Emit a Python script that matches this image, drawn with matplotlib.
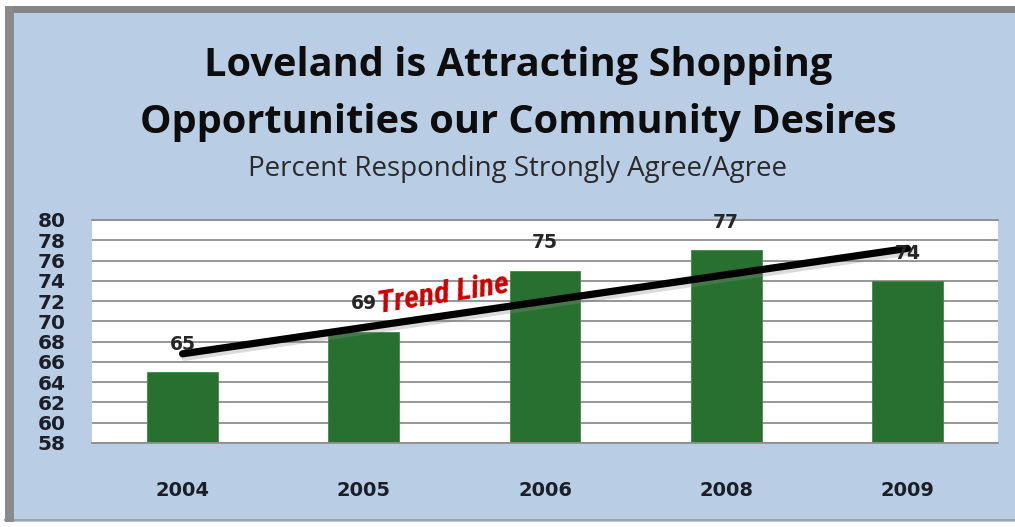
import numpy as np
import matplotlib
matplotlib.use("Agg")
import matplotlib.pyplot as plt
from matplotlib import font_manager as fm
from matplotlib.patches import Rectangle
from matplotlib.lines import Line2D
import matplotlib.patheffects as pe

# Survey results
years = ["2004", "2005", "2006", "2008", "2009"]
percent_agree = [65, 69, 75, 77, 74]
y_ticks = list(range(58, 81, 2))

title = "Loveland is Attracting Shopping\nOpportunities our Community Desires"
subtitle = "Percent Responding Strongly Agree/Agree"

# Pick a narrow face for the annotation if one is installed
installed = {f.name for f in fm.fontManager.ttflist}
narrow_pref = ["Liberation Sans Narrow", "Roboto Condensed", "Open Sans Condensed",
               "DejaVu Sans Condensed", "Roboto"]
narrow_family = next((n for n in narrow_pref if n in installed), "DejaVu Sans")
condensed_faces = [f for f in fm.fontManager.ttflist
                   if str(f.stretch) in ("condensed", "semi-condensed", "extra-condensed")]
narrow_stretch = "normal"
if narrow_family in ("Roboto", "DejaVu Sans") and condensed_faces:
    narrow_family = condensed_faces[0].name
    narrow_stretch = "condensed"

W, H = 1015, 527
fig = plt.figure(figsize=(W / 100, H / 100), dpi=100, facecolor="white")

def fx(px):
    return px / W

def fy(py):
    return 1 - py / H

# Panel background with a grey frame on the top and left
fig.patches.append(Rectangle((fx(5), fy(522)), fx(1010), 516 / H,
                             transform=fig.transFigure, facecolor="#b9cde5",
                             edgecolor="none", zorder=-3))
fig.patches.append(Rectangle((fx(5), fy(13)), fx(1010), 7 / H,
                             transform=fig.transFigure, facecolor="#858585",
                             edgecolor="none", zorder=-2))
fig.patches.append(Rectangle((fx(5), fy(522)), fx(9), 516 / H,
                             transform=fig.transFigure, facecolor="#8a8a8a",
                             edgecolor="none", zorder=-2))
fig.lines.append(Line2D([fx(5), 1], [fy(520), fy(520)], transform=fig.transFigure,
                        color="#9aa6b4", lw=1.5, zorder=-2))

ax = fig.add_axes([fx(92), fy(443), fx(998) - fx(92), (443 - 220) / H])
ax.set_zorder(2)
ax.set_facecolor("white")

x = np.arange(len(years))
ax.bar(x, percent_agree, width=0.39, bottom=0, color="#27702f",
       edgecolor="#3c8a45", linewidth=0.6, zorder=2)

ax.set_xlim(-0.5, len(years) - 0.5)
ax.set_ylim(58, 80)
ax.set_yticks(y_ticks)
ax.set_yticklabels([str(t) for t in y_ticks])
ax.set_xticks(x)
ax.set_xticklabels(years)
ax.yaxis.grid(True, color="#8e8e8e", linewidth=1.3, zorder=1)
ax.set_axisbelow(True)
for side in ("left", "right"):
    ax.spines[side].set_visible(False)
for side in ("top", "bottom"):
    ax.spines[side].set_color("#8e8e8e")
    ax.spines[side].set_linewidth(1.3)
ax.tick_params(axis="y", length=0, pad=19, labelsize=14.5, labelcolor="#1a1f2a")
ax.tick_params(axis="x", length=0, pad=27, labelsize=14, labelcolor="#1a1f2a")
for lab in ax.get_yticklabels() + ax.get_xticklabels():
    lab.set_fontweight("bold")
    lab.set_fontfamily("DejaVu Sans")

# Value labels above bars
for xi, v in zip(x, percent_agree):
    ax.annotate(str(v), (xi, v), xytext=(0, 20), textcoords="offset points",
                ha="center", va="center", fontsize=13.5, fontweight="bold",
                family="DejaVu Sans", color="#262626", zorder=5)

# Least-squares trend line across the survey years
slope, intercept = np.polyfit(x, percent_agree, 1)
tx = np.array([x[0], x[-1]])
ax.plot(tx, slope * tx + intercept, color="black", lw=5.2, solid_capstyle="round",
        zorder=4,
        path_effects=[pe.SimpleLineShadow(offset=(1.5, -2.5), shadow_color="#888888",
                                          alpha=0.3), pe.Normal()])

ax.text(1.44, 72.7, "Trend Line", color="#cc0000", fontsize=23,
        fontweight="bold", fontstyle="italic", fontstretch=narrow_stretch,
        family=[narrow_family, "DejaVu Sans"],
        rotation=9, ha="center", va="center", zorder=6)

fig.text(fx(518), fy(94), title, ha="center", va="center", fontsize=28.6,
         fontweight="bold", family="Open Sans", color="#0d0d0d", linespacing=1.62)
fig.text(fx(518), fy(169), subtitle, ha="center", va="center", fontsize=20,
         family="Open Sans", color="#2a2a2a")

fig.savefig("out.png", dpi=100, facecolor="white")
